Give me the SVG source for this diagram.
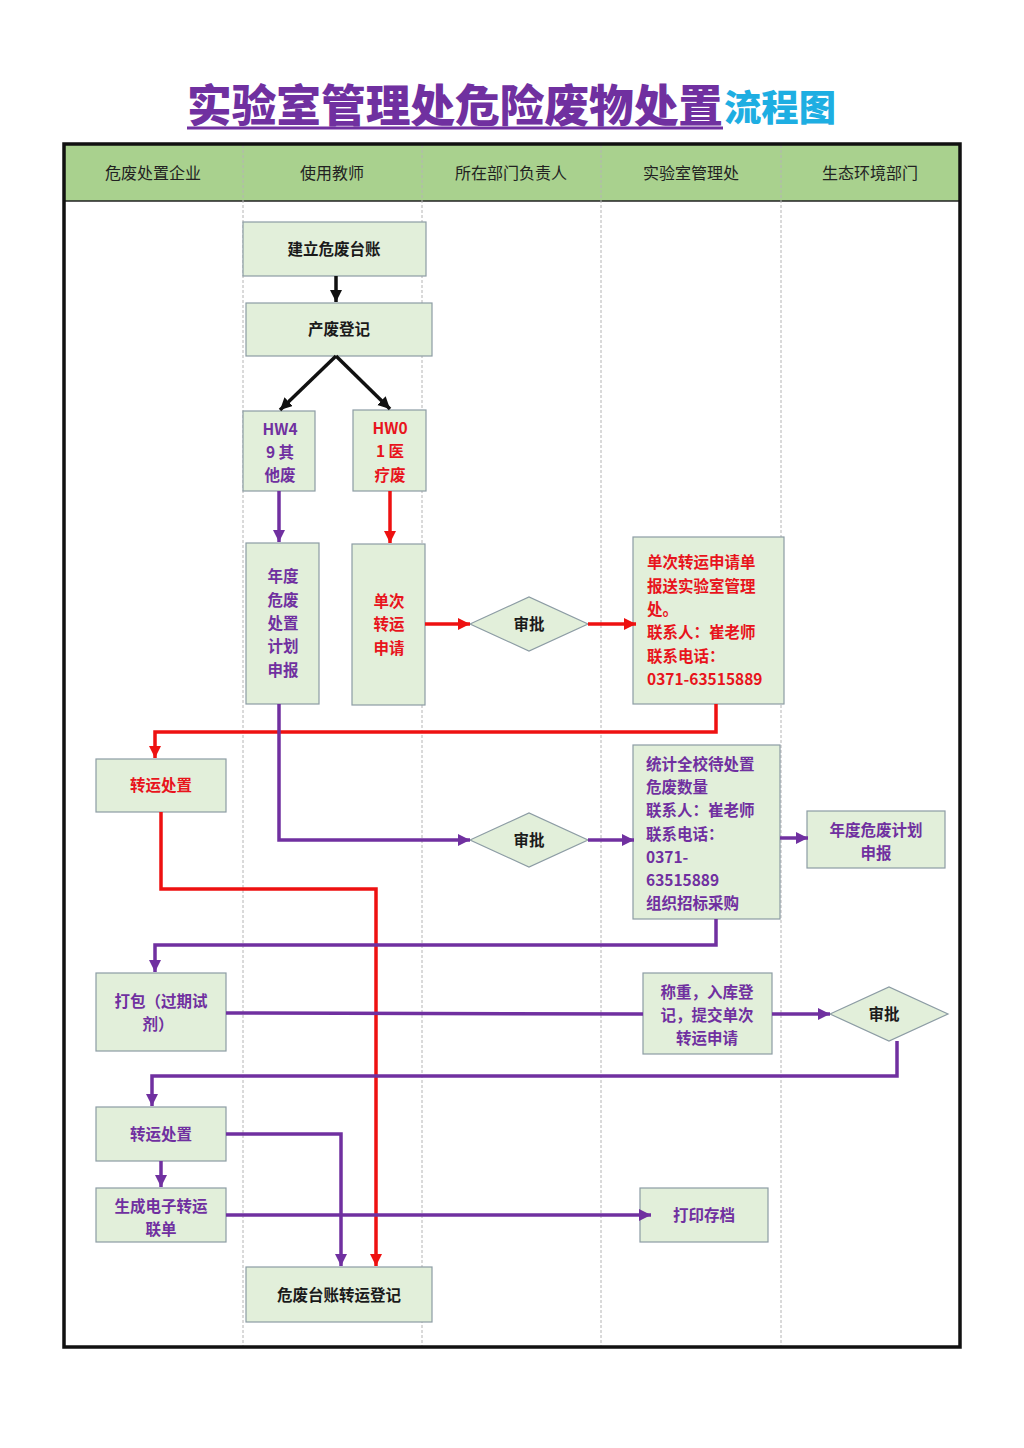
<svg xmlns="http://www.w3.org/2000/svg" width="1024" height="1448" viewBox="0 0 1024 1448">
<style>
text{font-family:"Noto Sans CJK SC","Liberation Sans",sans-serif}
.hd{font-size:16px;fill:#222;text-anchor:middle}
.box{fill:#e2efda;stroke:#8c9ca4;stroke-width:1.2}
.t{font-size:15.5px;font-weight:700;text-anchor:middle}
.tl{font-size:15.5px;font-weight:700}
.k{fill:#1a1a1a}
.p{fill:#7030a0}
.r{fill:#e8141c}
.lane{stroke:#b4b4b4;stroke-width:1;stroke-dasharray:3 2}
.cr{fill:none;stroke:#ee1111;stroke-width:3.5}
.cp{fill:none;stroke:#7030a0;stroke-width:3.5}
.ck{fill:none;stroke:#111;stroke-width:3.5}
</style>
<defs>
<marker id="ak" markerUnits="userSpaceOnUse" markerWidth="14" markerHeight="14" refX="12" refY="6" orient="auto"><path d="M0,0 L12,6 L0,12 Z" fill="#111"/></marker>
<marker id="ar" markerUnits="userSpaceOnUse" markerWidth="14" markerHeight="14" refX="12" refY="6" orient="auto"><path d="M0,0 L12,6 L0,12 Z" fill="#ee1111"/></marker>
<marker id="ap" markerUnits="userSpaceOnUse" markerWidth="14" markerHeight="14" refX="12" refY="6" orient="auto"><path d="M0,0 L12,6 L0,12 Z" fill="#7030a0"/></marker>
</defs>
<rect width="1024" height="1448" fill="#fff"/>
<g id="title">
<text x="187" y="122" font-size="44.5" font-weight="900" fill="#7030a0" textLength="536" lengthAdjust="spacingAndGlyphs">实验室管理处危险废物处置</text>
<line x1="187" y1="128" x2="723" y2="128" stroke="#7030a0" stroke-width="3"/>
<text x="724" y="121" font-size="36" font-weight="900" fill="#1eaee2" textLength="112" lengthAdjust="spacingAndGlyphs">流程图</text>
</g>
<g id="frame">
<rect x="64" y="145" width="896" height="56" fill="#a9d18e"/>
<line x1="64" y1="201" x2="960" y2="201" stroke="#222" stroke-width="1.5"/>
<line class="lane" x1="243" y1="145" x2="243" y2="1346"/>
<line class="lane" x1="422" y1="145" x2="422" y2="1346"/>
<line class="lane" x1="601" y1="145" x2="601" y2="1346"/>
<line class="lane" x1="781" y1="145" x2="781" y2="1346"/>
<rect x="64" y="144" width="896" height="1203" fill="none" stroke="#111" stroke-width="3.5"/>
<text class="hd" x="153" y="179">危废处置企业</text>
<text class="hd" x="332" y="179">使用教师</text>
<text class="hd" x="511" y="179">所在部门负责人</text>
<text class="hd" x="691" y="179">实验室管理处</text>
<text class="hd" x="870" y="179">生态环境部门</text>
</g>
<g id="n1"><rect class="box" x="243" y="222" width="183" height="54"/><text class="t k" x="334" y="255">建立危废台账</text></g>
<g id="n2"><rect class="box" x="246" y="303" width="186" height="53"/><text class="t k" x="339" y="335">产废登记</text></g>
<g id="n3"><rect class="box" x="243" y="411" width="72" height="80"/><text class="t p" x="280" y="435">HW4</text><text class="t p" x="280" y="458">9 其</text><text class="t p" x="280" y="481">他废</text></g>
<g id="n4"><rect class="box" x="353" y="410" width="73" height="81"/><text class="t r" x="390" y="434">HW0</text><text class="t r" x="390" y="457">1 医</text><text class="t r" x="390" y="481">疗废</text></g>
<g id="n5"><rect class="box" x="246" y="543" width="73" height="161"/><text class="t p" x="283" y="582">年度</text><text class="t p" x="283" y="606">危废</text><text class="t p" x="283" y="629">处置</text><text class="t p" x="283" y="652">计划</text><text class="t p" x="283" y="676">申报</text></g>
<g id="n6"><rect class="box" x="352" y="544" width="73" height="161"/><text class="t r" x="389" y="607">单次</text><text class="t r" x="389" y="630">转运</text><text class="t r" x="389" y="654">申请</text></g>
<g id="d1"><polygon class="box" points="470,624 529,597 588,624 529,651"/><text class="t k" x="529" y="630" font-weight="400">审批</text></g>
<g id="n7"><rect class="box" x="633" y="537" width="151" height="167"/>
<text class="tl r" x="647" y="568">单次转运申请单</text><text class="tl r" x="647" y="592">报送实验室管理</text><text class="tl r" x="647" y="615">处。</text><text class="tl r" x="647" y="638">联系人：崔老师</text><text class="tl r" x="647" y="662">联系电话：</text><text class="tl r" x="647" y="685">0371-63515889</text></g>
<g id="n8"><rect class="box" x="96" y="759" width="130" height="53"/><text class="t r" x="161" y="791">转运处置</text></g>
<g id="d2"><polygon class="box" points="470,840 529,813 588,840 529,867"/><text class="t k" x="529" y="846" font-weight="400">审批</text></g>
<g id="n9"><rect class="box" x="633" y="745" width="147" height="174"/>
<text class="tl p" x="646" y="770">统计全校待处置</text><text class="tl p" x="646" y="793">危废数量</text><text class="tl p" x="646" y="816">联系人：崔老师</text><text class="tl p" x="646" y="840">联系电话：</text><text class="tl p" x="646" y="863">0371-</text><text class="tl p" x="646" y="886">63515889</text><text class="tl p" x="646" y="909">组织招标采购</text></g>
<g id="n10"><rect class="box" x="807" y="811" width="138" height="57"/><text class="t p" x="876" y="836">年度危废计划</text><text class="t p" x="876" y="859">申报</text></g>
<g id="n11"><rect class="box" x="96" y="973" width="130" height="78"/><text class="t p" x="161" y="1007" font-weight="400">打包（过期试</text><text class="t p" x="158" y="1030" font-weight="400">剂）</text></g>
<g id="n12"><rect class="box" x="643" y="973" width="129" height="81"/><text class="t p" x="707" y="998" font-weight="400">称重，入库登</text><text class="t p" x="707" y="1021" font-weight="400">记，提交单次</text><text class="t p" x="707" y="1044" font-weight="400">转运申请</text></g>
<g id="d3"><polygon class="box" points="830,1014 889,987 948,1014 889,1041"/><text class="t k" x="884" y="1020" font-weight="400">审批</text></g>
<g id="n13"><rect class="box" x="96" y="1107" width="130" height="54"/><text class="t p" x="161" y="1140" font-weight="400">转运处置</text></g>
<g id="n14"><rect class="box" x="96" y="1188" width="130" height="54"/><text class="t p" x="161" y="1212" font-weight="400">生成电子转运</text><text class="t p" x="161" y="1235" font-weight="400">联单</text></g>
<g id="n15"><rect class="box" x="640" y="1188" width="128" height="54"/><text class="t p" x="704" y="1221" font-weight="400">打印存档</text></g>
<g id="n16"><rect class="box" x="246" y="1267" width="186" height="55"/><text class="t k" x="339" y="1301" font-weight="400">危废台账转运登记</text></g>
<g id="connectors">
<line class="ck" x1="336" y1="276" x2="336" y2="302" marker-end="url(#ak)"/>
<line class="ck" x1="336" y1="356" x2="280" y2="410" marker-end="url(#ak)"/>
<line class="ck" x1="336" y1="356" x2="390" y2="409" marker-end="url(#ak)"/>
<line class="cp" x1="279" y1="491" x2="279" y2="542" marker-end="url(#ap)"/>
<line class="cr" x1="390" y1="491" x2="390" y2="543" marker-end="url(#ar)"/>
<line class="cr" x1="425" y1="624" x2="470" y2="624" marker-end="url(#ar)"/>
<line class="cr" x1="588" y1="624" x2="636" y2="624" marker-end="url(#ar)"/>
<polyline class="cr" points="716,704 716,732 155,732 155,758" marker-end="url(#ar)"/>
<polyline class="cr" points="161,812 161,889 376,889 376,1266" marker-end="url(#ar)"/>
<polyline class="cp" points="279,704 279,840 470,840" marker-end="url(#ap)"/>
<line class="cp" x1="588" y1="840" x2="634" y2="840" marker-end="url(#ap)"/>
<line class="cp" x1="780" y1="838" x2="808" y2="838" marker-end="url(#ap)"/>
<polyline class="cp" points="716,919 716,945 155,945 155,972" marker-end="url(#ap)"/>
<line class="cp" x1="226" y1="1013" x2="643" y2="1014"/>
<line class="cp" x1="772" y1="1014" x2="830" y2="1014" marker-end="url(#ap)"/>
<polyline class="cp" points="897,1041 897,1076 152,1076 152,1106" marker-end="url(#ap)"/>
<polyline class="cp" points="226,1134 341,1134 341,1266" marker-end="url(#ap)"/>
<line class="cp" x1="161" y1="1161" x2="161" y2="1187" marker-end="url(#ap)"/>
<line class="cp" x1="226" y1="1215" x2="651" y2="1215" marker-end="url(#ap)"/>
</g>
</svg>
